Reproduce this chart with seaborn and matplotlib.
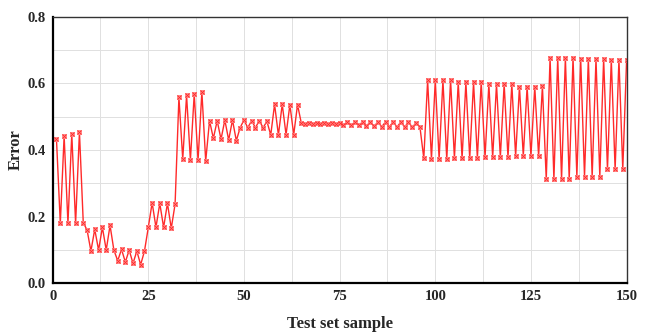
import numpy as np
import pandas as pd
import matplotlib
matplotlib.use('Agg')
import matplotlib.pyplot as plt
from matplotlib.ticker import MultipleLocator
import seaborn as sns

# test sample index and prediction error
sample = np.arange(1, 151)
error = [
    0.432, 0.180, 0.442, 0.180, 0.448, 0.180, 0.454, 0.182, 0.160, 0.097,
    0.162, 0.100, 0.168, 0.100, 0.174, 0.100, 0.068, 0.102, 0.064, 0.100,
    0.060, 0.097, 0.056, 0.097, 0.168, 0.242, 0.168, 0.240, 0.168, 0.240,
    0.165, 0.238, 0.558, 0.373, 0.564, 0.370, 0.568, 0.369, 0.574, 0.367,
    0.488, 0.435, 0.488, 0.432, 0.490, 0.430, 0.490, 0.428, 0.467, 0.490,
    0.467, 0.488, 0.467, 0.488, 0.467, 0.486, 0.445, 0.537, 0.445, 0.537,
    0.446, 0.536, 0.446, 0.536, 0.480, 0.478, 0.482, 0.478, 0.482, 0.478,
    0.482, 0.477, 0.482, 0.477, 0.482, 0.476, 0.483, 0.475, 0.483, 0.474,
    0.484, 0.472, 0.484, 0.471, 0.484, 0.470, 0.484, 0.470, 0.484, 0.469,
    0.484, 0.469, 0.484, 0.468, 0.482, 0.468, 0.375, 0.609, 0.373, 0.609,
    0.373, 0.609, 0.372, 0.610, 0.375, 0.603, 0.375, 0.603, 0.375, 0.603,
    0.376, 0.604, 0.378, 0.598, 0.378, 0.598, 0.378, 0.598, 0.378, 0.598,
    0.382, 0.590, 0.382, 0.590, 0.382, 0.590, 0.382, 0.591, 0.312, 0.677,
    0.312, 0.677, 0.312, 0.677, 0.312, 0.677, 0.320, 0.674, 0.320, 0.674,
    0.320, 0.674, 0.320, 0.674, 0.342, 0.671, 0.342, 0.671, 0.342, 0.670,
]
df = pd.DataFrame({'sample': sample, 'error': error})

sns.set_style('whitegrid')
plt.rcParams['font.family'] = ['Liberation Serif', 'DejaVu Serif']
plt.rcParams['font.weight'] = 'bold'

fig = plt.figure(figsize=(6.5, 3.33), dpi=100)
ax = fig.add_axes([0.081, 0.149, 0.883, 0.801])

sns.lineplot(data=df, x='sample', y='error', ax=ax, color='#ff2a2a', lw=1.0,
             marker='s', markersize=3.2, markeredgewidth=0.6,
             markerfacecolor='#ffb0b0', markeredgecolor='#ff8080')
# asterisk on top of each square marker
ax.plot(df['sample'], df['error'], ls='none', marker='x', markersize=2.4,
        markeredgewidth=0.7, color='#ff2a2a')

ax.set_xlim(0, 150)
ax.set_ylim(0, 0.8)
ax.xaxis.set_major_locator(MultipleLocator(25))
ax.xaxis.set_minor_locator(MultipleLocator(12.5))
ax.yaxis.set_major_locator(MultipleLocator(0.2))
ax.yaxis.set_minor_locator(MultipleLocator(0.1))
ax.yaxis.set_major_formatter(matplotlib.ticker.FormatStrFormatter('%.1f'))
ax.grid(which='both', color='#e0e0e0', lw=0.7)
ax.set_axisbelow(True)

ax.tick_params(which='both', direction='in', labelsize=10.5, width=1.2)
ax.tick_params(which='major', length=4, pad=5)
ax.tick_params(which='minor', length=2.5)
for lab in ax.get_xticklabels() + ax.get_yticklabels():
    lab.set_fontweight('bold')

for side in ['left', 'bottom']:
    ax.spines[side].set_linewidth(1.6)
    ax.spines[side].set_color('black')
for side in ['top', 'right']:
    ax.spines[side].set_linewidth(1.0)
    ax.spines[side].set_color('#333333')

ax.set_xlabel('Test set sample', fontsize=12, fontweight='bold', labelpad=9)
ax.set_ylabel('Error', fontsize=12, fontweight='bold', labelpad=3)

fig.savefig('out.png', dpi=100)
